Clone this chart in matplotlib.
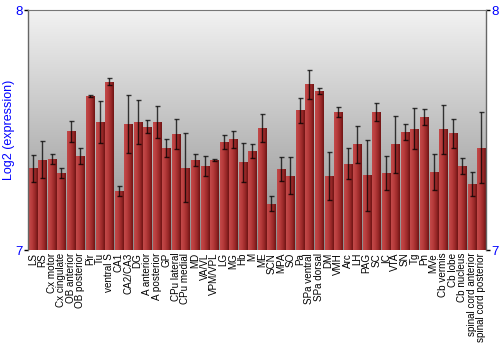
import matplotlib
matplotlib.use("Agg")
import matplotlib.pyplot as plt
import numpy as np
from matplotlib.colors import LinearSegmentedColormap

regions = ["LS", "RS", "Cx motor", "Cx cingulate", "OB anterior", "OB posterior", "Pir", "Tu",
           "ventral S", "CA1", "CA2/CA3", "DG", "A anterior", "A posterior", "GP", "CPu lateral",
           "CPu medial", "MD", "VA/VL", "VPM/VPL", "LG", "MG", "Hb", "M", "ME", "SCN", "MPA", "SO",
           "Pa", "SPa ventral", "SPa dorsal", "DM", "VMH", "Arc", "LH", "PAG", "SC", "IC", "VTA",
           "SN", "Tg", "Pn", "MVe", "Cb vermis", "Cb lobe", "Cb nucleus", "spinal cord anterior",
           "spinal cord posterior"]
values = [7.340, 7.376, 7.379, 7.321, 7.494, 7.392, 7.642, 7.532,
          7.701, 7.246, 7.524, 7.533, 7.514, 7.533, 7.425, 7.483,
          7.343, 7.375, 7.350, 7.375, 7.450, 7.461, 7.365, 7.411, 7.508, 7.192, 7.336, 7.310,
          7.583, 7.690, 7.662, 7.310, 7.576, 7.360, 7.440, 7.312, 7.576, 7.321, 7.440,
          7.493, 7.505, 7.554, 7.325, 7.504, 7.486, 7.351, 7.276,
          7.426]
errors = [0.057, 0.077, 0.019, 0.022, 0.042, 0.032, 0.005, 0.087,
          0.015, 0.022, 0.120, 0.092, 0.026, 0.065, 0.038, 0.062,
          0.145, 0.025, 0.040, 0.003, 0.028, 0.035, 0.082, 0.029, 0.058, 0.031, 0.050, 0.076,
          0.052, 0.062, 0.012, 0.100, 0.020, 0.065, 0.078, 0.148, 0.038, 0.069, 0.118,
          0.033, 0.085, 0.034, 0.076, 0.102, 0.060, 0.033, 0.050,
          0.148]
y_ticks = [7, 8]
y_label = "Log2 (expression)"

fig = plt.figure(figsize=(5, 3.5), dpi=100)
ax = fig.add_axes([0.056, 0.2857, 0.916, 0.6857])

x = np.arange(len(regions))
ax.set_xlim(-0.5, len(regions) - 0.5)
ax.set_ylim(7, 8)

# background gradient
bg = LinearSegmentedColormap.from_list("bg", ["#8c8c8c", "#f2f2f2"])
grad = np.linspace(0, 1, 256).reshape(-1, 1)
ax.imshow(grad, cmap=bg, aspect="auto", origin="lower",
          extent=[-0.5, len(regions) - 0.5, 7, 8], zorder=0)

bars = ax.bar(x, np.array(values) - 7, bottom=7, width=0.84, color="#a52a2a",
              linewidth=0, zorder=2)
barcmap = LinearSegmentedColormap.from_list("bar", ["#c24a4a", "#b83c3c", "#9c2a2a", "#701414"])
hgrad = np.linspace(0, 1, 64).reshape(1, -1)
for b in bars:
    x0, y0 = b.get_x(), b.get_y()
    w, h = b.get_width(), b.get_height()
    im = ax.imshow(hgrad, cmap=barcmap, aspect="auto",
                   extent=[x0, x0 + w, y0, y0 + h], zorder=2.5)
    im.set_clip_path(b)
ax.set_xlim(-0.5, len(regions) - 0.5)
ax.set_ylim(7, 8)

ax.errorbar(x, values, yerr=errors, fmt="none", ecolor="black", elinewidth=1.0,
            capsize=1.8, capthick=1.0, alpha=0.75, zorder=3)

ax.set_xticks(x)
ax.set_xticklabels(regions, rotation=90, fontsize=7.1, family="Liberation Sans")
ax.tick_params(axis="x", length=0, pad=2)
ax.set_yticks(y_ticks)
ax.set_yticklabels([str(t) for t in y_ticks])
ax.tick_params(axis="y", colors="black", labelcolor="#0000ff", labelsize=9.5,
               length=3, width=1, left=True, right=True, labelright=True, pad=1)
for lab in ax.get_yticklabels():
    lab.set_family("Liberation Sans")
ax.set_ylabel(y_label, color="#0000ff", fontsize=9, family="Liberation Sans", labelpad=0)

for s in ["left", "right"]:
    ax.spines[s].set_color("#666666")
    ax.spines[s].set_linewidth(1)
ax.spines["top"].set_color("#777777")
ax.spines["bottom"].set_visible(False)

fig.savefig("out.png", dpi=100)
